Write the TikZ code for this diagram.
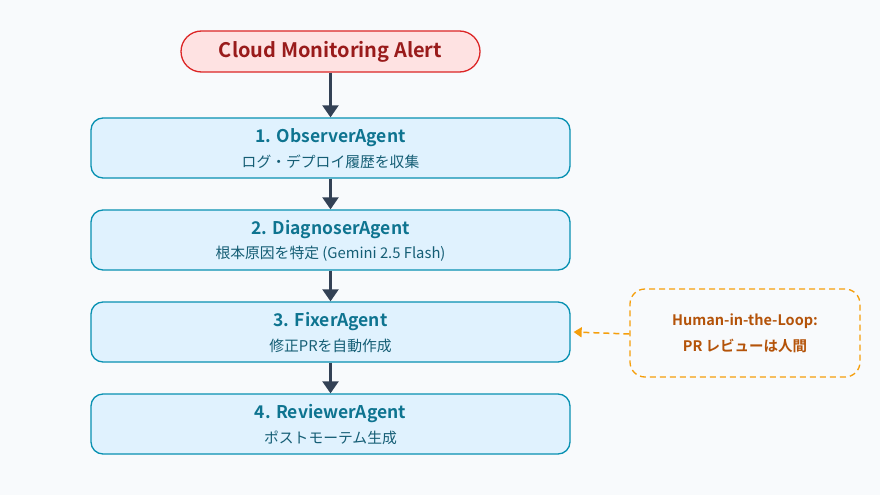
\documentclass[tikz,border=0pt]{standalone}
\usepackage{fontspec}
\setmainfont{Noto Sans CJK JP}[BoldFont={Noto Sans CJK JP Bold}]
\usetikzlibrary{arrows.meta}
\definecolor{bg}{HTML}{F8FAFC}
\definecolor{alertfill}{HTML}{FEE2E2}
\definecolor{alertdraw}{HTML}{DC2626}
\definecolor{alerttext}{HTML}{991B1B}
\definecolor{agentfill}{HTML}{E0F2FE}
\definecolor{agentdraw}{HTML}{0891B2}
\definecolor{agenttitle}{HTML}{0E7490}
\definecolor{agentsub}{HTML}{155E75}
\definecolor{arrowc}{HTML}{334155}
\definecolor{hitldraw}{HTML}{F59E0B}
\definecolor{hitltext}{HTML}{B45309}
\begin{document}
\begin{tikzpicture}[x=1pt,y=-1pt,
  alertbox/.style={draw=alertdraw,fill=alertfill,line width=1.3pt,rounded corners=20.5pt,minimum width=299pt,minimum height=41pt,inner sep=0pt,text=alerttext,font=\bfseries\fontsize{20}{24}\selectfont},
  agentbox/.style={draw=agentdraw,fill=agentfill,line width=1.3pt,rounded corners=12pt,minimum width=479pt,minimum height=60pt,inner sep=0pt},
  hitlbox/.style={draw=hitldraw,line width=1.3pt,dashed,dash pattern=on 6pt off 4pt,rounded corners=15pt,minimum width=230pt,minimum height=88pt,inner sep=0pt,align=center,text=hitltext,font=\bfseries\fontsize{14.5}{26}\selectfont},
  flow/.style={draw=arrowc,line width=2.2pt,-{Triangle[width=16pt,length=12pt]}},
  hitlarrow/.style={draw=hitldraw,line width=1.5pt,dash pattern=on 6pt off 4pt,-{Triangle[width=10pt,length=8pt]}},
  ttl/.style={text=agenttitle,font=\bfseries\fontsize{17.5}{20}\selectfont},
  sub/.style={text=agentsub,font=\fontsize{14.8}{18}\selectfont}
]
\fill[bg] (0,0) rectangle (880,495);
\useasboundingbox (0,0) rectangle (880,495);

\node[alertbox] (alert) at (330.5,51.5) {Cloud Monitoring Alert};

\node[agentbox] (a1) at (330.5,148) {};
\node[ttl] (t1) at (330.5,138) {1. ObserverAgent};
\node[sub] (s1) at (330.5,162) {ログ・デプロイ履歴を収集};

\node[agentbox] (a2) at (330.5,240) {};
\node[ttl] (t2) at (330.5,230) {2. DiagnoserAgent};
\node[sub] (s2) at (330.5,254) {根本原因を特定 (Gemini 2.5 Flash)};

\node[agentbox] (a3) at (330.5,332) {};
\node[ttl] (t3) at (330.5,322) {3. FixerAgent};
\node[sub] (s3) at (330.5,346) {修正PRを自動作成};

\node[agentbox] (a4) at (330.5,424) {};
\node[ttl] (t4) at (330.5,414) {4. ReviewerAgent};
\node[sub] (s4) at (330.5,438) {ポストモーテム生成};

\node[hitlbox] (h) at (745,333) {Human-in-the-Loop:\\PR レビューは人間};

\draw[flow] (alert) -- (a1);
\draw[flow] (a1) -- (a2);
\draw[flow] (a2) -- (a3);
\draw[flow] (a3) -- (a4);
\draw[hitlarrow] ([yshift=-1pt]h.west) -- ([xshift=3pt]a3.east);
\end{tikzpicture}
\end{document}
